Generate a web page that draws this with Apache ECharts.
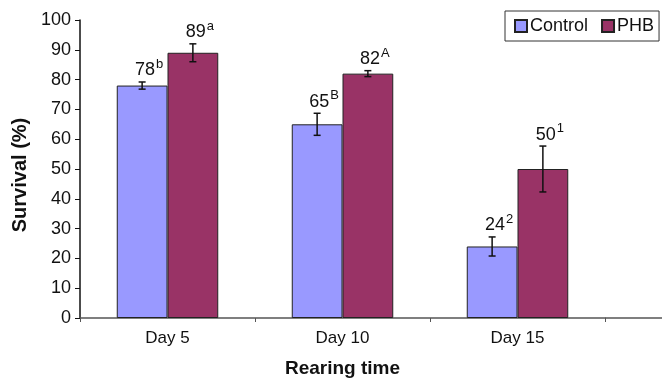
<!DOCTYPE html>
<html>
<head>
<meta charset="utf-8">
<script src="https://cdn.jsdelivr.net/npm/echarts@6/dist/echarts.min.js"></script>
<style>
  html, body { margin: 0; padding: 0; background: #fff; }
  #chart { width: 662px; height: 380px; }
</style>
</head>
<body>
<div id="chart"></div>
<script>
// data
var days = ['Day 5', 'Day 10', 'Day 15']
var control = [78, 65, 24]
var phb = [89, 82, 50]
var controlErr = [1.2, 3.7, 3.2]
var phbErr = [3, 1, 7.7]
var controlSup = ['b', 'B', '2']
var phbSup = ['a', 'A', '1']

var BAR_RATIO = 0.29 // share of a category taken by one bar
var FONT = 'Liberation Sans, Arial'

var myChart = echarts.init(document.getElementById('chart'))

// error bar + "value^letter" label on top, one per bar
function errorSeries(name, values, errs, sups, side) {
  var data = values.map(function (v, i) {
    return [i, v, errs[i], sups[i]]
  })
  return {
    type: 'custom',
    name: name + '_err',
    silent: true,
    z: 5,
    data: data,
    renderItem: function (params, api) {
      var idx = api.value(0)
      var val = api.value(1)
      var err = api.value(2)
      var sup = data[params.dataIndex][3]
      var band = api.size([1, 0])[0]
      var x = api.coord([idx, val])[0] + side * band * BAR_RATIO / 2
      var yTop = api.coord([idx, val + err])[1]
      var yBot = api.coord([idx, val - err])[1]
      var cap = 3.5
      var ls = { stroke: '#111', lineWidth: 1.5 }
      return {
        type: 'group',
        children: [
          { type: 'line', shape: { x1: x, y1: yTop, x2: x, y2: yBot }, style: ls },
          { type: 'line', shape: { x1: x - cap, y1: yTop, x2: x + cap, y2: yTop }, style: ls },
          { type: 'line', shape: { x1: x - cap, y1: yBot, x2: x + cap, y2: yBot }, style: ls },
          {
            type: 'text',
            x: x + 7,
            y: yTop + 1,
            style: {
              text: '{v|' + val + '}{s|' + sup + '}',
              align: 'center',
              verticalAlign: 'bottom',
              rich: {
                v: { fontSize: 18, fontFamily: FONT, fill: '#111' },
                s: { fontSize: 13, fontFamily: FONT, fill: '#111', padding: [0, 0, 12, 1] }
              }
            }
          }
        ]
      }
    }
  }
}

var option = {
  backgroundColor: '#fff',
  animation: false,
  textStyle: { fontFamily: FONT },
  grid: { left: 80, right: 57, top: 20, bottom: 62, containLabel: false, outerBoundsMode: 'none' },
  legend: {
    data: ['Control', 'PHB'],
    left: 505,
    top: 11,
    padding: [6, 5, 6, 9],
    itemWidth: 12,
    itemHeight: 12,
    itemGap: 13,
    borderColor: '#333',
    borderWidth: 1,
    icon: 'rect',
    textStyle: { fontSize: 18, color: '#111', padding: [0, 0, 0, -2] }
  },
  xAxis: {
    type: 'category',
    data: days,
    name: 'Rearing time',
    nameLocation: 'middle',
    nameGap: 41,
    nameTextStyle: { fontSize: 19, fontWeight: 'bold', color: '#111' },
    axisLine: { lineStyle: { color: '#555', width: 1.5 } },
    axisTick: { show: true, length: 4, lineStyle: { color: '#555' } },
    axisLabel: { fontSize: 17, color: '#111', margin: 12 }
  },
  yAxis: {
    type: 'value',
    min: 0,
    max: 100,
    interval: 10,
    name: 'Survival (%)',
    nameLocation: 'middle',
    nameGap: 50,
    nameTextStyle: { fontSize: 20, fontWeight: 'bold', color: '#111', padding: [0, 12, 0, 0] },
    axisLine: { show: true, lineStyle: { color: '#111', width: 1.5 } },
    axisTick: { show: true, length: 5, lineStyle: { color: '#111' } },
    axisLabel: { fontSize: 18, color: '#111', margin: 9 },
    splitLine: { show: false }
  },
  series: [
    {
      name: 'Control',
      type: 'bar',
      data: control,
      barWidth: (BAR_RATIO * 100) + '%',
      barGap: '0%',
      itemStyle: { color: '#9999ff', borderColor: '#222', borderWidth: 1 }
    },
    {
      name: 'PHB',
      type: 'bar',
      data: phb,
      barWidth: (BAR_RATIO * 100) + '%',
      itemStyle: { color: '#993366', borderColor: '#222', borderWidth: 1 }
    },
    errorSeries('Control', control, controlErr, controlSup, -1),
    errorSeries('PHB', phb, phbErr, phbSup, 1)
  ]
}

myChart.setOption(option)

// the figure is cropped on the right: x axis line runs on to the edge
var grid = myChart.getModel().getComponent('grid').coordinateSystem.getRect()
myChart.setOption({
  graphic: [{
    type: 'line',
    shape: { x1: grid.x + grid.width, y1: grid.y + grid.height, x2: 662, y2: grid.y + grid.height },
    style: { stroke: '#555', lineWidth: 1.5 }
  }]
})
</script>
</body>
</html>
